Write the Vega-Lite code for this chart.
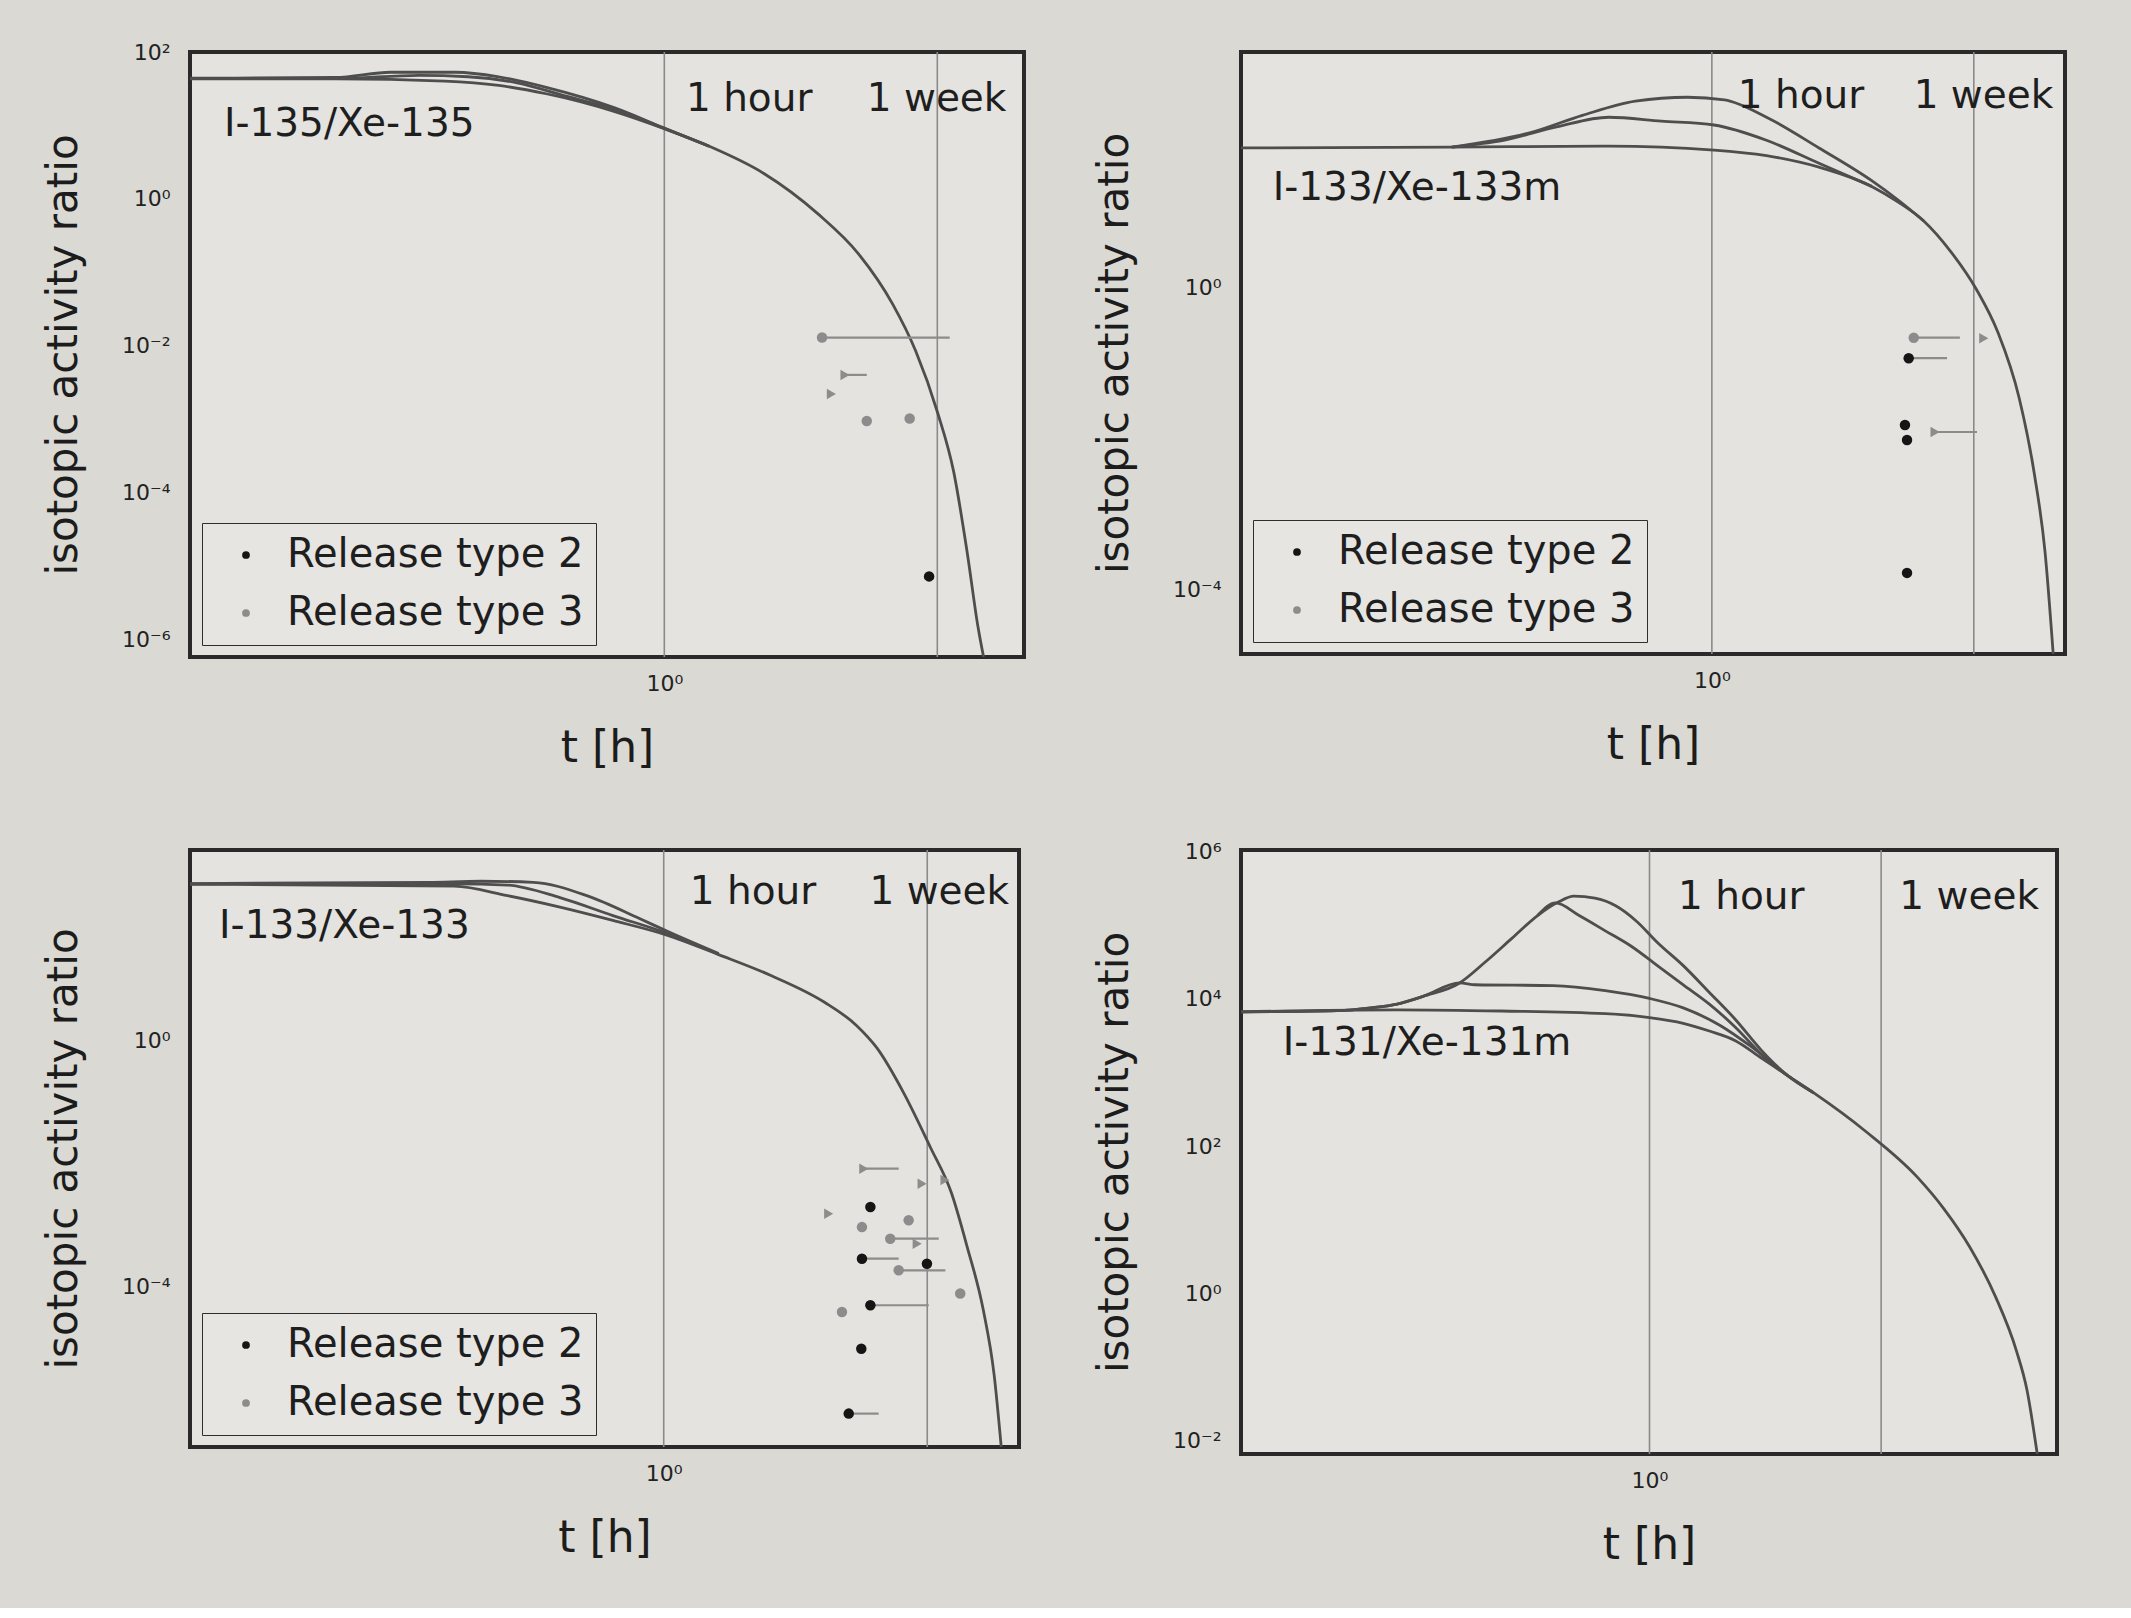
{
  "$schema": "https://vega.github.io/schema/vega-lite/v6.json",
  "background": "#dad9d4",
  "padding": {"left": 40, "top": 39, "right": 68, "bottom": 39},
  "columns": 2,
  "align": "each",
  "bounds": "flush",
  "spacing": {"row": 193, "column": 217},
  "resolve": {"scale": {"color": "independent", "shape": "independent", "x": "independent", "y": "independent"}, "legend": {"color": "independent"}},
  "config": {
    "font": "DejaVu Sans",
    "view": {"stroke": "#2a2a2a", "strokeWidth": 4, "fill": "#e4e3df"},
    "axis": {"domain": false, "ticks": false, "grid": false, "labelFont": "DejaVu Sans", "labelFontSize": 22, "labelColor": "#222222", "titleFont": "DejaVu Sans", "titleFontWeight": "normal", "titleColor": "#1c1c1c"},
    "axisX": {"labelPadding": 16, "titleFontSize": 44, "titlePadding": 32},
    "axisY": {"labelPadding": 20, "titleFontSize": 42, "titlePadding": 36},
    "text": {"font": "DejaVu Sans", "fontSize": 39, "color": "#1e1e1e", "align": "left", "baseline": "middle"},
    "legend": {"title": null, "orient": "bottom-left", "offset": 12, "fillColor": "#e6e5e1", "strokeColor": "#2e2e2e", "padding": 12, "rowPadding": 18, "symbolSize": 60, "symbolType": "circle", "symbolOffset": 12, "labelOffset": 21, "labelFontSize": 40, "labelFont": "DejaVu Sans", "labelColor": "#1e1e1e", "labelLimit": 0}
  },
  "datasets": {
    "refs": [
      {"panel": "p1", "t": 1}, {"panel": "p1", "t": 168},
      {"panel": "p2", "t": 1}, {"panel": "p2", "t": 168},
      {"panel": "p3", "t": 1}, {"panel": "p3", "t": 168},
      {"panel": "p4", "t": 1}, {"panel": "p4", "t": 168}
    ],
    "labels": [
      {"panel": "p1", "label": "1 hour", "t": 1.5, "r": 22.7},
      {"panel": "p1", "label": "1 week", "t": 44.7, "r": 22.7},
      {"panel": "p1", "label": "I-135/Xe-135", "t": 0.000257, "r": 10.4},
      {"panel": "p2", "label": "1 hour", "t": 1.66, "r": 343},
      {"panel": "p2", "label": "1 week", "t": 51.8, "r": 343},
      {"panel": "p2", "label": "I-133/Xe-133m", "t": 0.000186, "r": 20.6},
      {"panel": "p3", "label": "1 hour", "t": 1.66, "r": 267},
      {"panel": "p3", "label": "1 week", "t": 54.6, "r": 267},
      {"panel": "p3", "label": "I-133/Xe-133", "t": 0.000176, "r": 74},
      {"panel": "p4", "label": "1 hour", "t": 1.88, "r": 240000},
      {"panel": "p4", "label": "1 week", "t": 251, "r": 240000},
      {"panel": "p4", "label": "I-131/Xe-131m", "t": 0.000299, "r": 2540}
    ],
    "points": [
      {"panel": "p1", "t": 19.3, "r": 0.0129, "t_hi": 212, "type": "Release type 3", "kind": "dot"},
      {"panel": "p1", "t": 29.7, "r": 0.004, "t_hi": 44.7, "type": "Release type 3", "kind": "limit"},
      {"panel": "p1", "t": 23, "r": 0.0022, "type": "Release type 3", "kind": "limit"},
      {"panel": "p1", "t": 44.7, "r": 0.00094, "type": "Release type 3", "kind": "dot"},
      {"panel": "p1", "t": 100, "r": 0.00102, "type": "Release type 3", "kind": "dot"},
      {"panel": "p1", "t": 144, "r": 0.0000072, "type": "Release type 2", "kind": "dot"},
      {"panel": "p2", "t": 51.9, "r": 0.215, "t_hi": 128, "type": "Release type 3", "kind": "dot"},
      {"panel": "p2", "t": 47, "r": 0.115, "t_hi": 99.5, "type": "Release type 2", "kind": "dot"},
      {"panel": "p2", "t": 204, "r": 0.211, "type": "Release type 3", "kind": "limit"},
      {"panel": "p2", "t": 43.7, "r": 0.015, "type": "Release type 2", "kind": "dot"},
      {"panel": "p2", "t": 45.5, "r": 0.0095, "type": "Release type 2", "kind": "dot"},
      {"panel": "p2", "t": 78.7, "r": 0.0121, "t_hi": 179, "type": "Release type 3", "kind": "limit"},
      {"panel": "p2", "t": 45.5, "r": 0.000164, "type": "Release type 2", "kind": "dot"},
      {"panel": "p3", "t": 48.9, "r": 0.00824, "t_hi": 96.4, "type": "Release type 3", "kind": "limit"},
      {"panel": "p3", "t": 152, "r": 0.00469, "type": "Release type 3", "kind": "limit"},
      {"panel": "p3", "t": 237, "r": 0.0054, "type": "Release type 3", "kind": "limit"},
      {"panel": "p3", "t": 24.7, "r": 0.00152, "type": "Release type 3", "kind": "limit"},
      {"panel": "p3", "t": 55.6, "r": 0.00196, "type": "Release type 2", "kind": "dot"},
      {"panel": "p3", "t": 47.2, "r": 0.00092, "type": "Release type 3", "kind": "dot"},
      {"panel": "p3", "t": 117, "r": 0.00119, "type": "Release type 3", "kind": "dot"},
      {"panel": "p3", "t": 81.8, "r": 0.000596, "t_hi": 210, "type": "Release type 3", "kind": "dot"},
      {"panel": "p3", "t": 138, "r": 0.000493, "type": "Release type 3", "kind": "limit"},
      {"panel": "p3", "t": 47.2, "r": 0.000281, "t_hi": 96.4, "type": "Release type 2", "kind": "dot"},
      {"panel": "p3", "t": 96.4, "r": 0.000182, "t_hi": 239, "type": "Release type 3", "kind": "dot"},
      {"panel": "p3", "t": 167, "r": 0.000233, "type": "Release type 2", "kind": "dot"},
      {"panel": "p3", "t": 319, "r": 0.000076, "type": "Release type 3", "kind": "dot"},
      {"panel": "p3", "t": 55.6, "r": 0.000049, "t_hi": 173, "type": "Release type 2", "kind": "dot"},
      {"panel": "p3", "t": 32, "r": 0.000038, "type": "Release type 3", "kind": "dot"},
      {"panel": "p3", "t": 46.6, "r": 0.0000096, "type": "Release type 2", "kind": "dot"},
      {"panel": "p3", "t": 36.5, "r": 0.00000084, "t_hi": 65.3, "type": "Release type 2", "kind": "dot"}
    ],
    "curves": [
      {"panel": "p1", "curve": "a", "t": 0.000136, "r": 43},
      {"panel": "p1", "curve": "a", "t": 0.00209, "r": 43},
      {"panel": "p1", "curve": "a", "t": 0.0162, "r": 40},
      {"panel": "p1", "curve": "a", "t": 0.0447, "r": 35},
      {"panel": "p1", "curve": "a", "t": 0.109, "r": 27},
      {"panel": "p1", "curve": "a", "t": 0.389, "r": 15.5},
      {"panel": "p1", "curve": "a", "t": 1, "r": 9.0},
      {"panel": "p1", "curve": "a", "t": 2.32, "r": 5.2},
      {"panel": "p1", "curve": "a", "t": 6.43, "r": 2.23},
      {"panel": "p1", "curve": "a", "t": 17.8, "r": 0.628},
      {"panel": "p1", "curve": "a", "t": 38.4, "r": 0.177},
      {"panel": "p1", "curve": "a", "t": 72.5, "r": 0.0371},
      {"panel": "p1", "curve": "a", "t": 112, "r": 0.00845},
      {"panel": "p1", "curve": "a", "t": 168, "r": 0.00126},
      {"panel": "p1", "curve": "a", "t": 229, "r": 0.000188},
      {"panel": "p1", "curve": "a", "t": 295, "r": 0.0000149},
      {"panel": "p1", "curve": "a", "t": 361, "r": 0.00000146},
      {"panel": "p1", "curve": "a", "t": 400, "r": 0.000000577},
      {"panel": "p1", "curve": "b", "t": 0.000136, "r": 44},
      {"panel": "p1", "curve": "b", "t": 0.00209, "r": 45},
      {"panel": "p1", "curve": "b", "t": 0.00589, "r": 53},
      {"panel": "p1", "curve": "b", "t": 0.01995, "r": 53},
      {"panel": "p1", "curve": "b", "t": 0.0447, "r": 46},
      {"panel": "p1", "curve": "b", "t": 0.109, "r": 33},
      {"panel": "p1", "curve": "b", "t": 0.389, "r": 17.5},
      {"panel": "p1", "curve": "b", "t": 1, "r": 9.2},
      {"panel": "p1", "curve": "b", "t": 2.32, "r": 5.2},
      {"panel": "p1", "curve": "c", "t": 0.000136, "r": 43.5},
      {"panel": "p1", "curve": "c", "t": 0.00209, "r": 43.5},
      {"panel": "p1", "curve": "c", "t": 0.01, "r": 48},
      {"panel": "p1", "curve": "c", "t": 0.0251, "r": 46},
      {"panel": "p1", "curve": "c", "t": 0.0631, "r": 38},
      {"panel": "p1", "curve": "c", "t": 0.158, "r": 25},
      {"panel": "p1", "curve": "c", "t": 0.398, "r": 16.5},
      {"panel": "p1", "curve": "c", "t": 1, "r": 9.1},
      {"panel": "p1", "curve": "c", "t": 2.32, "r": 5.2},

      {"panel": "p2", "curve": "a", "t": 0.0001, "r": 70.5},
      {"panel": "p2", "curve": "a", "t": 0.00617, "r": 72.1},
      {"panel": "p2", "curve": "a", "t": 0.133, "r": 74.6},
      {"panel": "p2", "curve": "a", "t": 1.042, "r": 66.1},
      {"panel": "p2", "curve": "a", "t": 2.91, "r": 55.7},
      {"panel": "p2", "curve": "a", "t": 8.13, "r": 39.2},
      {"panel": "p2", "curve": "a", "t": 22.8, "r": 21.8},
      {"panel": "p2", "curve": "a", "t": 38.0, "r": 13.6},
      {"panel": "p2", "curve": "a", "t": 63.1, "r": 7.59},
      {"panel": "p2", "curve": "a", "t": 107, "r": 2.98},
      {"panel": "p2", "curve": "a", "t": 178, "r": 0.923},
      {"panel": "p2", "curve": "a", "t": 269, "r": 0.254},
      {"panel": "p2", "curve": "a", "t": 407, "r": 0.0347},
      {"panel": "p2", "curve": "a", "t": 550, "r": 0.00331},
      {"panel": "p2", "curve": "a", "t": 676, "r": 0.000316},
      {"panel": "p2", "curve": "a", "t": 794, "r": 0.0000138},
      {"panel": "p2", "curve": "b", "t": 0.00617, "r": 72.1},
      {"panel": "p2", "curve": "b", "t": 0.01023, "r": 79.3},
      {"panel": "p2", "curve": "b", "t": 0.017, "r": 89.1},
      {"panel": "p2", "curve": "b", "t": 0.0479, "r": 134},
      {"panel": "p2", "curve": "b", "t": 0.133, "r": 180},
      {"panel": "p2", "curve": "b", "t": 0.372, "r": 160},
      {"panel": "p2", "curve": "b", "t": 1.042, "r": 142},
      {"panel": "p2", "curve": "b", "t": 2.91, "r": 89.1},
      {"panel": "p2", "curve": "b", "t": 8.13, "r": 44.1},
      {"panel": "p2", "curve": "b", "t": 22.8, "r": 21.8},
      {"panel": "p2", "curve": "c", "t": 0.00617, "r": 72.1},
      {"panel": "p2", "curve": "c", "t": 0.0288, "r": 112.5},
      {"panel": "p2", "curve": "c", "t": 0.0794, "r": 190.5},
      {"panel": "p2", "curve": "c", "t": 0.224, "r": 294},
      {"panel": "p2", "curve": "c", "t": 0.624, "r": 331},
      {"panel": "p2", "curve": "c", "t": 1.28, "r": 305},
      {"panel": "p2", "curve": "c", "t": 2.91, "r": 180},
      {"panel": "p2", "curve": "c", "t": 8.13, "r": 70.5},
      {"panel": "p2", "curve": "c", "t": 22.8, "r": 26.0},
      {"panel": "p2", "curve": "c", "t": 38.0, "r": 14.5},
      {"panel": "p2", "curve": "c", "t": 63.1, "r": 7.59},

      {"panel": "p3", "curve": "a", "t": 0.0001, "r": 356},
      {"panel": "p3", "curve": "a", "t": 0.017, "r": 331},
      {"panel": "p3", "curve": "a", "t": 0.0479, "r": 232},
      {"panel": "p3", "curve": "a", "t": 0.133, "r": 151},
      {"panel": "p3", "curve": "a", "t": 0.372, "r": 91.6},
      {"panel": "p3", "curve": "a", "t": 1.096, "r": 51.8},
      {"panel": "p3", "curve": "a", "t": 2.91, "r": 25.4},
      {"panel": "p3", "curve": "a", "t": 8.13, "r": 11.5},
      {"panel": "p3", "curve": "a", "t": 22.8, "r": 4.25},
      {"panel": "p3", "curve": "a", "t": 42.2, "r": 1.80},
      {"panel": "p3", "curve": "a", "t": 63.1, "r": 0.766},
      {"panel": "p3", "curve": "a", "t": 107, "r": 0.138},
      {"panel": "p3", "curve": "a", "t": 178, "r": 0.0186},
      {"panel": "p3", "curve": "a", "t": 269, "r": 0.00331},
      {"panel": "p3", "curve": "a", "t": 363, "r": 0.000457},
      {"panel": "p3", "curve": "a", "t": 501, "r": 0.0000398},
      {"panel": "p3", "curve": "a", "t": 617, "r": 0.00000355},
      {"panel": "p3", "curve": "a", "t": 708, "r": 0.00000024},
      {"panel": "p3", "curve": "b", "t": 0.0001, "r": 366},
      {"panel": "p3", "curve": "b", "t": 0.01023, "r": 383},
      {"panel": "p3", "curve": "b", "t": 0.0288, "r": 399},
      {"panel": "p3", "curve": "b", "t": 0.0794, "r": 383},
      {"panel": "p3", "curve": "b", "t": 0.224, "r": 232},
      {"panel": "p3", "curve": "b", "t": 0.624, "r": 98.4},
      {"panel": "p3", "curve": "b", "t": 1.096, "r": 59.7},
      {"panel": "p3", "curve": "b", "t": 2.91, "r": 26.4},
      {"panel": "p3", "curve": "c", "t": 0.0001, "r": 361},
      {"panel": "p3", "curve": "c", "t": 0.017, "r": 362},
      {"panel": "p3", "curve": "c", "t": 0.0479, "r": 346},
      {"panel": "p3", "curve": "c", "t": 0.133, "r": 216},
      {"panel": "p3", "curve": "c", "t": 0.372, "r": 110},
      {"panel": "p3", "curve": "c", "t": 1.096, "r": 55.6},
      {"panel": "p3", "curve": "c", "t": 2.91, "r": 25.7},

      {"panel": "p4", "curve": "a", "t": 0.000119, "r": 6650},
      {"panel": "p4", "curve": "a", "t": 0.00376, "r": 7080},
      {"panel": "p4", "curve": "a", "t": 0.0376, "r": 6820},
      {"panel": "p4", "curve": "a", "t": 0.376, "r": 6270},
      {"panel": "p4", "curve": "a", "t": 1, "r": 5560},
      {"panel": "p4", "curve": "a", "t": 2.11, "r": 4650},
      {"panel": "p4", "curve": "a", "t": 3.76, "r": 3650},
      {"panel": "p4", "curve": "a", "t": 6.68, "r": 2700},
      {"panel": "p4", "curve": "a", "t": 11.9, "r": 1570},
      {"panel": "p4", "curve": "a", "t": 21.1, "r": 912},
      {"panel": "p4", "curve": "a", "t": 37.6, "r": 531},
      {"panel": "p4", "curve": "a", "t": 119, "r": 159},
      {"panel": "p4", "curve": "a", "t": 376, "r": 37.6},
      {"panel": "p4", "curve": "a", "t": 668, "r": 14.3},
      {"panel": "p4", "curve": "a", "t": 1189, "r": 4.30},
      {"panel": "p4", "curve": "a", "t": 2113, "r": 0.897},
      {"panel": "p4", "curve": "a", "t": 3350, "r": 0.166},
      {"panel": "p4", "curve": "a", "t": 4217, "r": 0.0499},
      {"panel": "p4", "curve": "a", "t": 5309, "r": 0.0066},
      {"panel": "p4", "curve": "b", "t": 0.000119, "r": 6650},
      {"panel": "p4", "curve": "b", "t": 0.001, "r": 6900},
      {"panel": "p4", "curve": "b", "t": 0.00211, "r": 7520},
      {"panel": "p4", "curve": "b", "t": 0.00376, "r": 8470},
      {"panel": "p4", "curve": "b", "t": 0.00668, "r": 10800},
      {"panel": "p4", "curve": "b", "t": 0.015, "r": 16400},
      {"panel": "p4", "curve": "b", "t": 0.0211, "r": 15500},
      {"panel": "p4", "curve": "b", "t": 0.119, "r": 15100},
      {"panel": "p4", "curve": "b", "t": 0.376, "r": 12900},
      {"panel": "p4", "curve": "b", "t": 1, "r": 10100},
      {"panel": "p4", "curve": "b", "t": 2.11, "r": 7520},
      {"panel": "p4", "curve": "b", "t": 4.73, "r": 4370},
      {"panel": "p4", "curve": "b", "t": 9.44, "r": 2250},
      {"panel": "p4", "curve": "b", "t": 21.1, "r": 912},
      {"panel": "p4", "curve": "b", "t": 37.6, "r": 531},
      {"panel": "p4", "curve": "c", "t": 0.000119, "r": 6650},
      {"panel": "p4", "curve": "c", "t": 0.001, "r": 6900},
      {"panel": "p4", "curve": "c", "t": 0.00211, "r": 7520},
      {"panel": "p4", "curve": "c", "t": 0.00376, "r": 8470},
      {"panel": "p4", "curve": "c", "t": 0.00668, "r": 10800},
      {"panel": "p4", "curve": "c", "t": 0.015, "r": 16400},
      {"panel": "p4", "curve": "c", "t": 0.0266, "r": 31800},
      {"panel": "p4", "curve": "c", "t": 0.0473, "r": 65600},
      {"panel": "p4", "curve": "c", "t": 0.0841, "r": 135000},
      {"panel": "p4", "curve": "c", "t": 0.133, "r": 206000},
      {"panel": "p4", "curve": "c", "t": 0.188, "r": 247000},
      {"panel": "p4", "curve": "c", "t": 0.299, "r": 232000},
      {"panel": "p4", "curve": "c", "t": 0.473, "r": 183000},
      {"panel": "p4", "curve": "c", "t": 0.75, "r": 113000},
      {"panel": "p4", "curve": "c", "t": 1.19, "r": 58200},
      {"panel": "p4", "curve": "c", "t": 2.11, "r": 28200},
      {"panel": "p4", "curve": "c", "t": 3.76, "r": 12200},
      {"panel": "p4", "curve": "c", "t": 6.68, "r": 5240},
      {"panel": "p4", "curve": "c", "t": 11.9, "r": 1995},
      {"panel": "p4", "curve": "c", "t": 21.1, "r": 912},
      {"panel": "p4", "curve": "c", "t": 37.6, "r": 531},
      {"panel": "p4", "curve": "d", "t": 0.0841, "r": 135000},
      {"panel": "p4", "curve": "d", "t": 0.125, "r": 200000},
      {"panel": "p4", "curve": "d", "t": 0.211, "r": 135000},
      {"panel": "p4", "curve": "d", "t": 0.376, "r": 83600},
      {"panel": "p4", "curve": "d", "t": 0.668, "r": 51600},
      {"panel": "p4", "curve": "d", "t": 1.19, "r": 28200},
      {"panel": "p4", "curve": "d", "t": 2.11, "r": 15500},
      {"panel": "p4", "curve": "d", "t": 3.76, "r": 8470},
      {"panel": "p4", "curve": "d", "t": 6.68, "r": 4110},
      {"panel": "p4", "curve": "d", "t": 11.9, "r": 1770},
      {"panel": "p4", "curve": "d", "t": 21.1, "r": 912}
    ]
  },
  "concat": [
    {
      "width": 834, "height": 605,
      "layer": [
        {"data": {"name": "refs"}, "transform": [{"filter": "datum.panel == 'p1'"}],
         "mark": {"type": "rule", "color": "#8a8a8a", "strokeWidth": 1.6},
         "encoding": {"x": {"field": "t", "type": "quantitative", "scale": {"type": "log", "domain": [0.000136, 855], "nice": false}, "axis": {"values": [1], "labelExpr": "'10⁰'", "title": "t [h]"}}}},
        {"data": {"name": "curves"}, "transform": [{"filter": "datum.panel == 'p1'"}],
         "mark": {"type": "line", "interpolate": "monotone", "clip": true, "color": "#4e4e4e", "strokeWidth": 2.8},
         "encoding": {
           "x": {"field": "t", "type": "quantitative", "scale": {"type": "log", "domain": [0.000136, 855], "nice": false}, "axis": {"values": [1], "labelExpr": "'10⁰'", "title": "t [h]"}},
           "y": {"field": "r", "type": "quantitative", "scale": {"type": "log", "domain": [0.000000575, 100], "nice": false}, "axis": {"values": [0.000001, 0.0001, 0.01, 1, 100], "labelExpr": "datum.value >= 100000 ? '10⁶' : datum.value >= 1000 ? '10⁴' : datum.value >= 10 ? '10²' : datum.value >= 0.1 ? '10⁰' : datum.value >= 0.001 ? '10⁻²' : datum.value >= 0.00001 ? '10⁻⁴' : '10⁻⁶'", "title": "isotopic activity ratio"}},
           "detail": {"field": "curve", "type": "nominal"}}},
        {"data": {"name": "points"}, "transform": [{"filter": "datum.panel == 'p1' && isValid(datum.t_hi)"}],
         "mark": {"type": "rule", "color": "#8c8c8c", "strokeWidth": 2.2},
         "encoding": {
           "x": {"field": "t", "type": "quantitative", "scale": {"type": "log", "domain": [0.000136, 855], "nice": false}, "axis": {"values": [1], "labelExpr": "'10⁰'", "title": "t [h]"}},
           "x2": {"field": "t_hi"},
           "y": {"field": "r", "type": "quantitative", "scale": {"type": "log", "domain": [0.000000575, 100], "nice": false}, "axis": {"values": [0.000001, 0.0001, 0.01, 1, 100], "labelExpr": "datum.value >= 100000 ? '10⁶' : datum.value >= 1000 ? '10⁴' : datum.value >= 10 ? '10²' : datum.value >= 0.1 ? '10⁰' : datum.value >= 0.001 ? '10⁻²' : datum.value >= 0.00001 ? '10⁻⁴' : '10⁻⁶'", "title": "isotopic activity ratio"}}}},
        {"data": {"name": "points"}, "transform": [{"filter": "datum.panel == 'p1'"}],
         "mark": {"type": "point", "filled": true, "opacity": 1, "size": 110},
         "encoding": {
           "x": {"field": "t", "type": "quantitative", "scale": {"type": "log", "domain": [0.000136, 855], "nice": false}, "axis": {"values": [1], "labelExpr": "'10⁰'", "title": "t [h]"}},
           "y": {"field": "r", "type": "quantitative", "scale": {"type": "log", "domain": [0.000000575, 100], "nice": false}, "axis": {"values": [0.000001, 0.0001, 0.01, 1, 100], "labelExpr": "datum.value >= 100000 ? '10⁶' : datum.value >= 1000 ? '10⁴' : datum.value >= 10 ? '10²' : datum.value >= 0.1 ? '10⁰' : datum.value >= 0.001 ? '10⁻²' : datum.value >= 0.00001 ? '10⁻⁴' : '10⁻⁶'", "title": "isotopic activity ratio"}},
           "color": {"field": "type", "type": "nominal", "scale": {"domain": ["Release type 2", "Release type 3"], "range": ["#151515", "#8c8c8c"]},
             "legend": {"encode": {"legend": {"update": {"strokeWidth": {"value": 3}}}}}},
           "shape": {"field": "kind", "type": "nominal", "scale": {"domain": ["dot", "limit"], "range": ["circle", "triangle-right"]}, "legend": null}}},
        {"data": {"name": "labels"}, "transform": [{"filter": "datum.panel == 'p1'"}],
         "mark": {"type": "text"},
         "encoding": {
           "x": {"field": "t", "type": "quantitative", "scale": {"type": "log", "domain": [0.000136, 855], "nice": false}, "axis": {"values": [1], "labelExpr": "'10⁰'", "title": "t [h]"}},
           "y": {"field": "r", "type": "quantitative", "scale": {"type": "log", "domain": [0.000000575, 100], "nice": false}, "axis": {"values": [0.000001, 0.0001, 0.01, 1, 100], "labelExpr": "datum.value >= 100000 ? '10⁶' : datum.value >= 1000 ? '10⁴' : datum.value >= 10 ? '10²' : datum.value >= 0.1 ? '10⁰' : datum.value >= 0.001 ? '10⁻²' : datum.value >= 0.00001 ? '10⁻⁴' : '10⁻⁶'", "title": "isotopic activity ratio"}},
           "text": {"field": "label", "type": "nominal"}}}
      ]
    },
    {
      "width": 824, "height": 602,
      "layer": [
        {"data": {"name": "refs"}, "transform": [{"filter": "datum.panel == 'p2'"}],
         "mark": {"type": "rule", "color": "#8a8a8a", "strokeWidth": 1.6},
         "encoding": {"x": {"field": "t", "type": "quantitative", "scale": {"type": "log", "domain": [0.0001, 1000], "nice": false}, "axis": {"values": [1], "labelExpr": "'10⁰'", "title": "t [h]"}}}},
        {"data": {"name": "curves"}, "transform": [{"filter": "datum.panel == 'p2'"}],
         "mark": {"type": "line", "interpolate": "monotone", "clip": true, "color": "#4e4e4e", "strokeWidth": 2.8},
         "encoding": {
           "x": {"field": "t", "type": "quantitative", "scale": {"type": "log", "domain": [0.0001, 1000], "nice": false}, "axis": {"values": [1], "labelExpr": "'10⁰'", "title": "t [h]"}},
           "y": {"field": "r", "type": "quantitative", "scale": {"type": "log", "domain": [0.0000138, 1318], "nice": false}, "axis": {"values": [0.0001, 1], "labelExpr": "datum.value >= 100000 ? '10⁶' : datum.value >= 1000 ? '10⁴' : datum.value >= 10 ? '10²' : datum.value >= 0.1 ? '10⁰' : datum.value >= 0.001 ? '10⁻²' : datum.value >= 0.00001 ? '10⁻⁴' : '10⁻⁶'", "title": "isotopic activity ratio"}},
           "detail": {"field": "curve", "type": "nominal"}}},
        {"data": {"name": "points"}, "transform": [{"filter": "datum.panel == 'p2' && isValid(datum.t_hi)"}],
         "mark": {"type": "rule", "color": "#8c8c8c", "strokeWidth": 2.2},
         "encoding": {
           "x": {"field": "t", "type": "quantitative", "scale": {"type": "log", "domain": [0.0001, 1000], "nice": false}, "axis": {"values": [1], "labelExpr": "'10⁰'", "title": "t [h]"}},
           "x2": {"field": "t_hi"},
           "y": {"field": "r", "type": "quantitative", "scale": {"type": "log", "domain": [0.0000138, 1318], "nice": false}, "axis": {"values": [0.0001, 1], "labelExpr": "datum.value >= 100000 ? '10⁶' : datum.value >= 1000 ? '10⁴' : datum.value >= 10 ? '10²' : datum.value >= 0.1 ? '10⁰' : datum.value >= 0.001 ? '10⁻²' : datum.value >= 0.00001 ? '10⁻⁴' : '10⁻⁶'", "title": "isotopic activity ratio"}}}},
        {"data": {"name": "points"}, "transform": [{"filter": "datum.panel == 'p2'"}],
         "mark": {"type": "point", "filled": true, "opacity": 1, "size": 110},
         "encoding": {
           "x": {"field": "t", "type": "quantitative", "scale": {"type": "log", "domain": [0.0001, 1000], "nice": false}, "axis": {"values": [1], "labelExpr": "'10⁰'", "title": "t [h]"}},
           "y": {"field": "r", "type": "quantitative", "scale": {"type": "log", "domain": [0.0000138, 1318], "nice": false}, "axis": {"values": [0.0001, 1], "labelExpr": "datum.value >= 100000 ? '10⁶' : datum.value >= 1000 ? '10⁴' : datum.value >= 10 ? '10²' : datum.value >= 0.1 ? '10⁰' : datum.value >= 0.001 ? '10⁻²' : datum.value >= 0.00001 ? '10⁻⁴' : '10⁻⁶'", "title": "isotopic activity ratio"}},
           "color": {"field": "type", "type": "nominal", "scale": {"domain": ["Release type 2", "Release type 3"], "range": ["#151515", "#8c8c8c"]},
             "legend": {"encode": {"legend": {"update": {"strokeWidth": {"value": 3}}}}}},
           "shape": {"field": "kind", "type": "nominal", "scale": {"domain": ["dot", "limit"], "range": ["circle", "triangle-right"]}, "legend": null}}},
        {"data": {"name": "labels"}, "transform": [{"filter": "datum.panel == 'p2'"}],
         "mark": {"type": "text"},
         "encoding": {
           "x": {"field": "t", "type": "quantitative", "scale": {"type": "log", "domain": [0.0001, 1000], "nice": false}, "axis": {"values": [1], "labelExpr": "'10⁰'", "title": "t [h]"}},
           "y": {"field": "r", "type": "quantitative", "scale": {"type": "log", "domain": [0.0000138, 1318], "nice": false}, "axis": {"values": [0.0001, 1], "labelExpr": "datum.value >= 100000 ? '10⁶' : datum.value >= 1000 ? '10⁴' : datum.value >= 10 ? '10²' : datum.value >= 0.1 ? '10⁰' : datum.value >= 0.001 ? '10⁻²' : datum.value >= 0.00001 ? '10⁻⁴' : '10⁻⁶'", "title": "isotopic activity ratio"}},
           "text": {"field": "label", "type": "nominal"}}}
      ]
    },
    {
      "width": 829, "height": 597,
      "layer": [
        {"data": {"name": "refs"}, "transform": [{"filter": "datum.panel == 'p3'"}],
         "mark": {"type": "rule", "color": "#8a8a8a", "strokeWidth": 1.6},
         "encoding": {"x": {"field": "t", "type": "quantitative", "scale": {"type": "log", "domain": [0.0001, 1000], "nice": false}, "axis": {"values": [1], "labelExpr": "'10⁰'", "title": "t [h]"}}}},
        {"data": {"name": "curves"}, "transform": [{"filter": "datum.panel == 'p3'"}],
         "mark": {"type": "line", "interpolate": "monotone", "clip": true, "color": "#4e4e4e", "strokeWidth": 2.8},
         "encoding": {
           "x": {"field": "t", "type": "quantitative", "scale": {"type": "log", "domain": [0.0001, 1000], "nice": false}, "axis": {"values": [1], "labelExpr": "'10⁰'", "title": "t [h]"}},
           "y": {"field": "r", "type": "quantitative", "scale": {"type": "log", "domain": [0.00000024, 1288], "nice": false}, "axis": {"values": [0.0001, 1], "labelExpr": "datum.value >= 100000 ? '10⁶' : datum.value >= 1000 ? '10⁴' : datum.value >= 10 ? '10²' : datum.value >= 0.1 ? '10⁰' : datum.value >= 0.001 ? '10⁻²' : datum.value >= 0.00001 ? '10⁻⁴' : '10⁻⁶'", "title": "isotopic activity ratio"}},
           "detail": {"field": "curve", "type": "nominal"}}},
        {"data": {"name": "points"}, "transform": [{"filter": "datum.panel == 'p3' && isValid(datum.t_hi)"}],
         "mark": {"type": "rule", "color": "#8c8c8c", "strokeWidth": 2.2},
         "encoding": {
           "x": {"field": "t", "type": "quantitative", "scale": {"type": "log", "domain": [0.0001, 1000], "nice": false}, "axis": {"values": [1], "labelExpr": "'10⁰'", "title": "t [h]"}},
           "x2": {"field": "t_hi"},
           "y": {"field": "r", "type": "quantitative", "scale": {"type": "log", "domain": [0.00000024, 1288], "nice": false}, "axis": {"values": [0.0001, 1], "labelExpr": "datum.value >= 100000 ? '10⁶' : datum.value >= 1000 ? '10⁴' : datum.value >= 10 ? '10²' : datum.value >= 0.1 ? '10⁰' : datum.value >= 0.001 ? '10⁻²' : datum.value >= 0.00001 ? '10⁻⁴' : '10⁻⁶'", "title": "isotopic activity ratio"}}}},
        {"data": {"name": "points"}, "transform": [{"filter": "datum.panel == 'p3'"}],
         "mark": {"type": "point", "filled": true, "opacity": 1, "size": 110},
         "encoding": {
           "x": {"field": "t", "type": "quantitative", "scale": {"type": "log", "domain": [0.0001, 1000], "nice": false}, "axis": {"values": [1], "labelExpr": "'10⁰'", "title": "t [h]"}},
           "y": {"field": "r", "type": "quantitative", "scale": {"type": "log", "domain": [0.00000024, 1288], "nice": false}, "axis": {"values": [0.0001, 1], "labelExpr": "datum.value >= 100000 ? '10⁶' : datum.value >= 1000 ? '10⁴' : datum.value >= 10 ? '10²' : datum.value >= 0.1 ? '10⁰' : datum.value >= 0.001 ? '10⁻²' : datum.value >= 0.00001 ? '10⁻⁴' : '10⁻⁶'", "title": "isotopic activity ratio"}},
           "color": {"field": "type", "type": "nominal", "scale": {"domain": ["Release type 2", "Release type 3"], "range": ["#151515", "#8c8c8c"]},
             "legend": {"encode": {"legend": {"update": {"strokeWidth": {"value": 3}}}}}},
           "shape": {"field": "kind", "type": "nominal", "scale": {"domain": ["dot", "limit"], "range": ["circle", "triangle-right"]}, "legend": null}}},
        {"data": {"name": "labels"}, "transform": [{"filter": "datum.panel == 'p3'"}],
         "mark": {"type": "text"},
         "encoding": {
           "x": {"field": "t", "type": "quantitative", "scale": {"type": "log", "domain": [0.0001, 1000], "nice": false}, "axis": {"values": [1], "labelExpr": "'10⁰'", "title": "t [h]"}},
           "y": {"field": "r", "type": "quantitative", "scale": {"type": "log", "domain": [0.00000024, 1288], "nice": false}, "axis": {"values": [0.0001, 1], "labelExpr": "datum.value >= 100000 ? '10⁶' : datum.value >= 1000 ? '10⁴' : datum.value >= 10 ? '10²' : datum.value >= 0.1 ? '10⁰' : datum.value >= 0.001 ? '10⁻²' : datum.value >= 0.00001 ? '10⁻⁴' : '10⁻⁶'", "title": "isotopic activity ratio"}},
           "text": {"field": "label", "type": "nominal"}}}
      ]
    },
    {
      "width": 816, "height": 604,
      "layer": [
        {"data": {"name": "refs"}, "transform": [{"filter": "datum.panel == 'p4'"}],
         "mark": {"type": "rule", "color": "#8a8a8a", "strokeWidth": 1.6},
         "encoding": {"x": {"field": "t", "type": "quantitative", "scale": {"type": "log", "domain": [0.000119, 8220], "nice": false}, "axis": {"values": [1], "labelExpr": "'10⁰'", "title": "t [h]"}}}},
        {"data": {"name": "curves"}, "transform": [{"filter": "datum.panel == 'p4'"}],
         "mark": {"type": "line", "interpolate": "monotone", "clip": true, "color": "#4e4e4e", "strokeWidth": 2.8},
         "encoding": {
           "x": {"field": "t", "type": "quantitative", "scale": {"type": "log", "domain": [0.000119, 8220], "nice": false}, "axis": {"values": [1], "labelExpr": "'10⁰'", "title": "t [h]"}},
           "y": {"field": "r", "type": "quantitative", "scale": {"type": "log", "domain": [0.0066, 1047000], "nice": false}, "axis": {"values": [0.01, 1, 100, 10000, 1000000], "labelExpr": "datum.value >= 100000 ? '10⁶' : datum.value >= 1000 ? '10⁴' : datum.value >= 10 ? '10²' : datum.value >= 0.1 ? '10⁰' : datum.value >= 0.001 ? '10⁻²' : datum.value >= 0.00001 ? '10⁻⁴' : '10⁻⁶'", "title": "isotopic activity ratio"}},
           "detail": {"field": "curve", "type": "nominal"}}},
        {"data": {"name": "labels"}, "transform": [{"filter": "datum.panel == 'p4'"}],
         "mark": {"type": "text"},
         "encoding": {
           "x": {"field": "t", "type": "quantitative", "scale": {"type": "log", "domain": [0.000119, 8220], "nice": false}, "axis": {"values": [1], "labelExpr": "'10⁰'", "title": "t [h]"}},
           "y": {"field": "r", "type": "quantitative", "scale": {"type": "log", "domain": [0.0066, 1047000], "nice": false}, "axis": {"values": [0.01, 1, 100, 10000, 1000000], "labelExpr": "datum.value >= 100000 ? '10⁶' : datum.value >= 1000 ? '10⁴' : datum.value >= 10 ? '10²' : datum.value >= 0.1 ? '10⁰' : datum.value >= 0.001 ? '10⁻²' : datum.value >= 0.00001 ? '10⁻⁴' : '10⁻⁶'", "title": "isotopic activity ratio"}},
           "text": {"field": "label", "type": "nominal"}}}
      ]
    }
  ]
}
